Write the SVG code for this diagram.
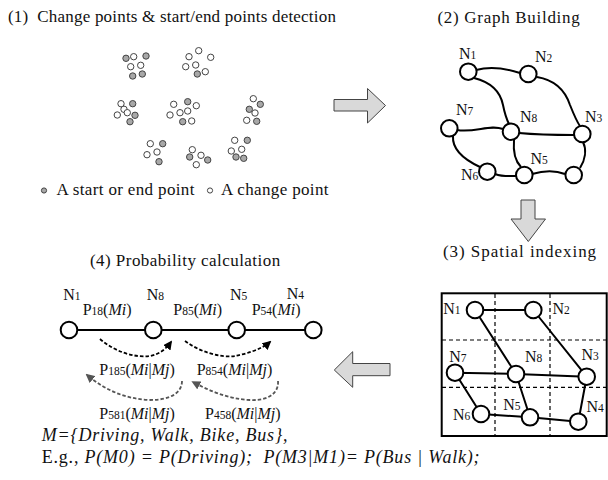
<svg xmlns="http://www.w3.org/2000/svg" width="608" height="480" viewBox="0 0 608 480" font-family="'Liberation Serif', 'Times New Roman', serif">
<style>
text{font-family:'Liberation Serif','Times New Roman',serif;fill:#111}
.t{font-size:17px}
.lb{font-size:16px}
.s{font-size:11.5px}
.i{font-style:italic}
.dw{fill:#fff;stroke:#444;stroke-width:1}
.dg{fill:#a8a8a8;stroke:#444;stroke-width:1}
.n{fill:#fff;stroke:#000;stroke-width:2}
.e{fill:none;stroke:#000;stroke-width:2}
.g{fill:none;stroke:#000;stroke-width:1.2;stroke-dasharray:4 3}
.big{fill:#d9d9d9;stroke:#444;stroke-width:1}
.da{fill:none;stroke:#000;stroke-width:1.8;stroke-dasharray:3.5 2}
.dga{fill:none;stroke:#555;stroke-width:1.8;stroke-dasharray:3.5 2}
.bt{font-size:18px;letter-spacing:0.8px}
</style>
<defs>
<marker id="ab" viewBox="0 0 10 10" refX="8" refY="5" markerWidth="5" markerHeight="5" orient="auto" markerUnits="strokeWidth"><path d="M0,0 L10,5 L0,10 Z" fill="#000"/></marker>
<marker id="ag" viewBox="0 0 10 10" refX="8" refY="5" markerWidth="5" markerHeight="5" orient="auto" markerUnits="strokeWidth"><path d="M0,0 L10,5 L0,10 Z" fill="#555"/></marker>
</defs>
<rect width="608" height="480" fill="#fff"/>

<!-- Section 1 -->
<text class="t" x="8" y="22" letter-spacing="0.2" xml:space="preserve">(1)  Change points &amp; start/end points detection</text>
<g id="points">
<circle class="dg" cx="126" cy="58.3" r="3.2"/><circle class="dw" cx="133.7" cy="56.7" r="3.2"/><circle class="dg" cx="146" cy="56" r="3.2"/><circle class="dw" cx="130.7" cy="66.7" r="3.2"/><circle class="dw" cx="140.7" cy="65.3" r="3.2"/><circle class="dg" cx="132.7" cy="76" r="3.2"/><circle class="dg" cx="142.3" cy="74" r="3.2"/>
<circle class="dw" cx="198.7" cy="50.7" r="3.2"/><circle class="dw" cx="189" cy="56.7" r="3.2"/><circle class="dw" cx="210.7" cy="57.3" r="3.2"/><circle class="dw" cx="185.7" cy="66.7" r="3.2"/><circle class="dw" cx="195.7" cy="65" r="3.2"/><circle class="dg" cx="197.3" cy="74" r="3.2"/><circle class="dw" cx="205.3" cy="71.7" r="3.2"/>
<circle class="dw" cx="121" cy="103.7" r="3.2"/><circle class="dg" cx="132.7" cy="103.7" r="3.2"/><circle class="dw" cx="124" cy="109.3" r="3.2"/><circle class="dw" cx="117.3" cy="115" r="3.2"/><circle class="dw" cx="127.3" cy="112.7" r="3.2"/><circle class="dg" cx="135" cy="115.3" r="3.2"/><circle class="dg" cx="130" cy="121.7" r="3.2"/>
<circle class="dg" cx="187.7" cy="101.7" r="3.2"/><circle class="dw" cx="173.7" cy="104.3" r="3.2"/><circle class="dw" cx="196.3" cy="105.7" r="3.2"/><circle class="dw" cx="187.7" cy="111" r="3.2"/><circle class="dw" cx="180" cy="112.7" r="3.2"/><circle class="dw" cx="170" cy="115" r="3.2"/><circle class="dg" cx="182.7" cy="121.7" r="3.2"/><circle class="dw" cx="191.7" cy="121" r="3.2"/>
<circle class="dw" cx="253.3" cy="98.7" r="3.2"/><circle class="dg" cx="260.3" cy="104.3" r="3.2"/><circle class="dg" cx="249.3" cy="109.3" r="3.2"/><circle class="dw" cx="255" cy="113" r="3.2"/><circle class="dw" cx="246.7" cy="120.3" r="3.2"/><circle class="dg" cx="256.7" cy="121.3" r="3.2"/>
<circle class="dw" cx="150.3" cy="143.7" r="3.2"/><circle class="dg" cx="162.7" cy="143.7" r="3.2"/><circle class="dw" cx="157" cy="152" r="3.2"/><circle class="dw" cx="147" cy="154.7" r="3.2"/><circle class="dg" cx="159" cy="161.7" r="3.2"/>
<circle class="dw" cx="192.3" cy="149.7" r="3.2"/><circle class="dw" cx="201" cy="155.3" r="3.2"/><circle class="dg" cx="189.7" cy="157" r="3.2"/><circle class="dg" cx="207.7" cy="160" r="3.2"/><circle class="dw" cx="196.3" cy="164.7" r="3.2"/>
<circle class="dw" cx="234.7" cy="140.3" r="3.2"/><circle class="dg" cx="247.3" cy="140.3" r="3.2"/><circle class="dw" cx="241.7" cy="149.3" r="3.2"/><circle class="dw" cx="231.3" cy="151" r="3.2"/><circle class="dg" cx="236" cy="157" r="3.2"/><circle class="dg" cx="243.7" cy="158.3" r="3.2"/>
</g>
<g id="legend">
<circle class="dg" cx="44" cy="190.5" r="2.6"/>
<text class="t" x="56.5" y="195" letter-spacing="0.35">A start or end point</text>
<circle class="dw" cx="210" cy="190.5" r="2.6"/>
<text class="t" x="221" y="195" letter-spacing="0.35">A change point</text>
</g>

<!-- Big arrows -->
<g id="arrow-right"><path class="big" d="M334,99.5 H367.5 V88.5 L385.5,105.5 L367.5,123 V111 H334 Z"/></g>
<g id="arrow-down"><path class="big" d="M521,200 H535 V219 H545.5 L528.3,241.5 L511,219 H521 Z"/></g>
<g id="arrow-left"><path class="big" d="M390,363.5 H352.7 V351.7 L334.3,370 L352.7,387.3 V375.7 H390 Z"/></g>

<!-- Section 2 -->
<text class="t" x="437.5" y="23" letter-spacing="0.7">(2) Graph Building</text>
<g id="g2-edges">
<path class="e" d="M476,70 C490,66 505,68 520,73"/>
<path class="e" d="M474,78 C490,82 500,90 503,105 C505,115 507,120 509,124"/>
<path class="e" d="M537,77 C555,80 565,90 570,105 C574,115 577,122 580,126"/>
<path class="e" d="M457,130 C475,133 490,124 503,129"/>
<path class="e" d="M519,133 C540,135 560,135 574,135"/>
<path class="e" d="M453,136 C452,150 465,160 480,167"/>
<path class="e" d="M514,140 C513,152 516,162 521,167"/>
<path class="e" d="M495,174 C503,177 510,176 516,176"/>
<path class="e" d="M532,174 C545,170 555,170 565,174"/>
<path class="e" d="M583,142 C587,150 585,160 580,168"/>
</g>
<g id="g2-N1"><circle class="n" cx="468.3" cy="71.7" r="8.3"/><text class="lb" x="459" y="58.5">N<tspan class="s">1</tspan></text></g>
<g id="g2-N2"><circle class="n" cx="528.3" cy="74" r="8.3"/><text class="lb" x="535" y="62">N<tspan class="s">2</tspan></text></g>
<g id="g2-N7"><circle class="n" cx="449.3" cy="128.3" r="8.3"/><text class="lb" x="456" y="114.5">N<tspan class="s">7</tspan></text></g>
<g id="g2-N8"><circle class="n" cx="511" cy="131.7" r="8.3"/><text class="lb" x="520" y="121.5">N<tspan class="s">8</tspan></text></g>
<g id="g2-N3"><circle class="n" cx="582.3" cy="134" r="8.3"/><text class="lb" x="585" y="121.5">N<tspan class="s">3</tspan></text></g>
<g id="g2-N6"><circle class="n" cx="487.3" cy="171.7" r="8.3"/><text class="lb" x="461" y="180">N<tspan class="s">6</tspan></text></g>
<g id="g2-N5"><circle class="n" cx="524.3" cy="175" r="8.3"/><text class="lb" x="530.5" y="164">N<tspan class="s">5</tspan></text></g>
<g id="g2-N4"><circle class="n" cx="573.7" cy="175" r="8.3"/></g>

<!-- Section 3 -->
<text class="t" x="443" y="257" letter-spacing="0.95">(3) Spatial indexing</text>
<g id="grid">
<rect x="441.7" y="293.3" width="165" height="142.7" fill="#fff" stroke="#000" stroke-width="2"/>
<path class="g" d="M495,294 V435 M550,294 V435 M442,340 H606 M442,387.3 H606"/>
</g>
<g id="g3-edges">
<path class="e" d="M475,310 H533.3 M475,310 L516,374 M533.3,310 L586.7,376.7 M455,372.7 L516,374 M516,374 L586.7,376.7 M455,372.7 L481,414 M516,374 L530,417.3 M481,414 L530,417.3 M530,417.3 L578.3,421.7 M586.7,376.7 L578.3,421.7"/>
</g>
<g id="g3-N1"><circle class="n" cx="475" cy="310" r="8.3"/><text class="lb" x="443.3" y="313.5">N<tspan class="s">1</tspan></text></g>
<g id="g3-N2"><circle class="n" cx="533.3" cy="310" r="8.3"/><text class="lb" x="552.5" y="313.5">N<tspan class="s">2</tspan></text></g>
<g id="g3-N7"><circle class="n" cx="455" cy="372.7" r="8.3"/><text class="lb" x="449.3" y="361.5">N<tspan class="s">7</tspan></text></g>
<g id="g3-N8"><circle class="n" cx="516" cy="374" r="8.3"/><text class="lb" x="525" y="361.5">N<tspan class="s">8</tspan></text></g>
<g id="g3-N3"><circle class="n" cx="586.7" cy="376.7" r="8.3"/><text class="lb" x="581.5" y="359.5">N<tspan class="s">3</tspan></text></g>
<g id="g3-N6"><circle class="n" cx="481" cy="414" r="8.3"/><text class="lb" x="453" y="419.5">N<tspan class="s">6</tspan></text></g>
<g id="g3-N5"><circle class="n" cx="530" cy="417.3" r="8.3"/><text class="lb" x="503.3" y="409.5">N<tspan class="s">5</tspan></text></g>
<g id="g3-N4"><circle class="n" cx="578.3" cy="421.7" r="8.3"/><text class="lb" x="586.5" y="412">N<tspan class="s">4</tspan></text></g>

<!-- Section 4 -->
<text class="t" x="90" y="266" letter-spacing="0.45">(4) Probability calculation</text>
<g id="g4-edges">
<path class="e" d="M69,330 H313.3"/>
<path class="da" marker-end="url(#ab)" d="M100,339 C115,352 135,358 150,356 C160,354 166,349 171,342"/>
<path class="da" marker-end="url(#ab)" d="M185,341 C200,352 220,358 235,356 C246,354 262,349 270,342"/>
<path class="dga" marker-end="url(#ag)" d="M182,381 C182,393 170,400 150,400 C125,399 105,390 87,375"/>
<path class="dga" marker-end="url(#ag)" d="M278,381 C279,393 268,401 250,400 C228,399 210,391 193,382"/>
</g>
<g id="g4-N1"><circle class="n" cx="69" cy="330" r="8.3"/><text class="lb" x="63.3" y="299.5">N<tspan class="s">1</tspan></text></g>
<g id="g4-N8"><circle class="n" cx="153.3" cy="330" r="8.3"/><text class="lb" x="146.7" y="299.5">N<tspan class="s">8</tspan></text></g>
<g id="g4-N5"><circle class="n" cx="236.7" cy="330" r="8.3"/><text class="lb" x="230" y="299.5">N<tspan class="s">5</tspan></text></g>
<g id="g4-N4"><circle class="n" cx="313.3" cy="330" r="8.3"/><text class="lb" x="286.7" y="298.5">N<tspan class="s">4</tspan></text></g>
<g id="g4-labels">
<text class="lb" x="82.7" y="315">P<tspan class="s">18</tspan>(<tspan class="i">Mi</tspan>)</text>
<text class="lb" x="173.3" y="315">P<tspan class="s">85</tspan>(<tspan class="i">Mi</tspan>)</text>
<text class="lb" x="251.7" y="315">P<tspan class="s">54</tspan>(<tspan class="i">Mi</tspan>)</text>
<text class="lb" x="99.3" y="375">P<tspan class="s">185</tspan>(<tspan class="i">Mi</tspan>|<tspan class="i">Mj</tspan>)</text>
<text class="lb" x="196.7" y="375">P<tspan class="s">854</tspan>(<tspan class="i">Mi</tspan>|<tspan class="i">Mj</tspan>)</text>
<text class="lb" x="99.3" y="418.5">P<tspan class="s">581</tspan>(<tspan class="i">Mi</tspan>|<tspan class="i">Mj</tspan>)</text>
<text class="lb" x="205" y="418.5">P<tspan class="s">458</tspan>(<tspan class="i">Mi</tspan>|<tspan class="i">Mj</tspan>)</text>
</g>
<text class="bt i" x="41.7" y="441" letter-spacing="1.1">M={Driving, Walk, Bike, Bus},</text>
<text class="bt" x="41.7" y="463" letter-spacing="0.6" xml:space="preserve">E.g., <tspan class="i">P(M0) = P(Driving);  P(M3|M1)= P(Bus | Walk);</tspan></text>
</svg>
